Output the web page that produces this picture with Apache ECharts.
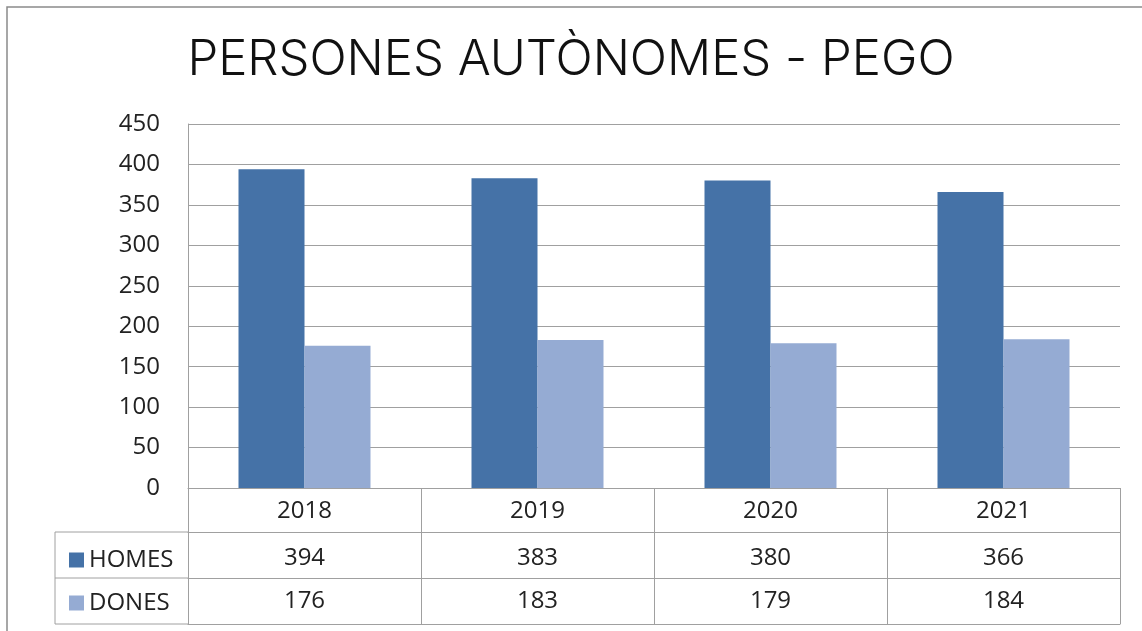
<!DOCTYPE html>
<html>
<head>
<meta charset="utf-8">
<script src="https://cdn.jsdelivr.net/npm/echarts@6/dist/echarts.min.js"></script>
<style>
    html, body { margin: 0; padding: 0; background: #fff; }
    #chart { width: 1142px; height: 631px; }
</style>
</head>
<body>
<div id="chart"></div>
<script>
    // dades
    var years = ['2018', '2019', '2020', '2021'];
    var homes = [394, 383, 380, 366];
    var dones = [176, 183, 179, 184];
    var seriesNames = ['HOMES', 'DONES'];
    var yTicks = { min: 0, max: 450, interval: 50 };

    var colorHomes = '#4572a7';
    var colorDones = '#95abd3';
    var lineColor = '#a0a0a0';
    var font = 'Open Sans';

    var gridLeft = 188, gridRight = 22, gridTop = 124, gridBottom = 143; // 631-488
    var rowH = [44, 46, 46];
    var tableLeft = 55;

    function tableAxis(data, offset, margin, formatter) {
        return {
            type: 'category',
            data: data,
            position: 'bottom',
            offset: offset,
            axisLine: { show: true, lineStyle: { color: lineColor, width: 1 } },
            axisTick: { show: false },
            splitLine: { show: false },
            axisLabel: {
                margin: margin,
                verticalAlign: 'middle',
                fontFamily: font,
                fontSize: 24,
                color: '#222',
                formatter: formatter
            }
        };
    }

    var yearAxis = tableAxis(years, 0, 23);
    yearAxis.axisTick = { show: true, length: 136, lineStyle: { color: lineColor } };

    var option = {
        animation: false,
        title: {
            text: 'PERSONES AUTÒNOMES - PEGO',
            left: 'center',
            top: 31,
            textStyle: { fontFamily: 'Inter', fontWeight: 300, fontSize: 49, color: '#111' }
        },
        legend: {
            orient: 'vertical',
            left: 64,
            top: 540,
            icon: 'rect',
            itemWidth: 15,
            itemHeight: 15,
            itemGap: 13,
            selectedMode: false,
            data: seriesNames,
            textStyle: { fontFamily: font, fontSize: 24, color: '#222', lineHeight: 30 }
        },
        grid: { left: gridLeft, right: gridRight, top: gridTop, bottom: gridBottom },
        xAxis: [
            yearAxis,
            tableAxis(years, rowH[0], 26, function (v, i) { return String(homes[i]); }),
            tableAxis(years, rowH[0] + rowH[1], 23, function (v, i) { return String(dones[i]); }),
            {
                type: 'category', data: years, position: 'bottom',
                offset: rowH[0] + rowH[1] + rowH[2],
                axisLine: { show: true, lineStyle: { color: lineColor } },
                axisTick: { show: false }, axisLabel: { show: false }
            }
        ],
        yAxis: {
            type: 'value',
            min: yTicks.min,
            max: yTicks.max,
            interval: yTicks.interval,
            axisLine: { show: true, lineStyle: { color: lineColor } },
            axisTick: { show: false },
            splitLine: { show: true, lineStyle: { color: lineColor, width: 1 } },
            axisLabel: { margin: 28, fontFamily: font, fontSize: 24, color: '#222' }
        },
        series: [
            {
                name: seriesNames[0], type: 'bar', xAxisIndex: 0,
                data: homes, barWidth: 66, barGap: '0%',
                itemStyle: { color: colorHomes }
            },
            {
                name: seriesNames[1], type: 'bar', xAxisIndex: 0,
                data: dones, barWidth: 66, barGap: '0%',
                itemStyle: { color: colorDones }
            }
        ],
        graphic: [
            // marc exterior
            { type: 'rect', shape: { x: 7, y: 7, width: 1300, height: 800 },
              style: { fill: 'none', stroke: '#8a8a8a', lineWidth: 1.5 }, silent: true },
            // columna de llegenda
            { type: 'line', shape: { x1: tableLeft, y1: 532, x2: gridLeft, y2: 532 }, style: { stroke: lineColor } },
            { type: 'line', shape: { x1: tableLeft, y1: 578, x2: gridLeft, y2: 578 }, style: { stroke: lineColor } },
            { type: 'line', shape: { x1: tableLeft, y1: 624, x2: gridLeft, y2: 624 }, style: { stroke: lineColor } },
            { type: 'line', shape: { x1: tableLeft, y1: 532, x2: tableLeft, y2: 624 }, style: { stroke: lineColor } }
        ]
    };

    var myChart = echarts.init(document.getElementById('chart'));
    myChart.setOption(option, true);
</script>
</body>
</html>
